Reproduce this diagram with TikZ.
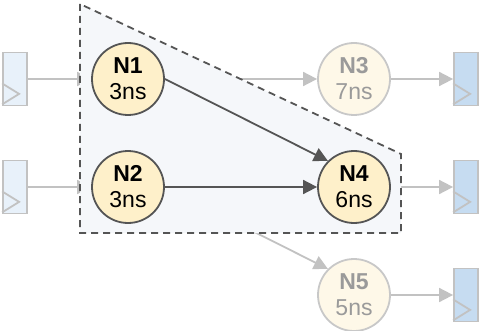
\documentclass[tikz,border=0pt]{standalone}
\usepackage{fontspec}
\setmainfont{Liberation Sans}
\usetikzlibrary{arrows.meta}
\pgfdeclarelayer{wires}
\pgfdeclarelayer{zone}
\pgfsetlayers{wires,zone,main}
\definecolor{wiregrey}{HTML}{C2C2C2}
\definecolor{darkwire}{HTML}{555555}
\definecolor{opfill}{HTML}{FEF0CA}
\definecolor{fadefill}{HTML}{FEF8E8}
\definecolor{fadetext}{HTML}{9A9A9A}
\definecolor{fadeline}{HTML}{C8C8C8}
\definecolor{zonefill}{HTML}{F5F7FA}
\definecolor{inreg}{HTML}{E8F1FA}
\definecolor{outreg}{HTML}{C6DCF1}
\tikzset{
  op/.style={circle, minimum size=72pt, inner sep=0pt, line width=1.8pt,
    draw=darkwire, fill=opfill, align=center, text=black,
    font=\fontsize{23}{26}\selectfont},
  fadeop/.style={op, draw=fadeline, fill=fadefill, text=fadetext},
  reg/.style={rectangle, minimum width=24pt, minimum height=53pt, inner sep=0pt,
    line width=1.8pt, draw=wiregrey},
  inff/.style={reg, fill=inreg},
  outff/.style={reg, fill=outreg},
  wire/.style={draw=wiregrey, line width=1.8pt,
    -{Triangle[length=14pt,width=14pt]}},
  critwire/.style={draw=darkwire, line width=1.8pt,
    -{Triangle[length=14pt,width=14pt]}},
  clk/.style={draw=wiregrey, line width=1.8pt}
}
\begin{document}
\begin{tikzpicture}[x=1pt,y=-1pt]
\useasboundingbox (0,0) rectangle (481,331);

% registers
\node[inff]  (R1) at (15,79)  {};
\node[inff]  (R2) at (15,187) {};
\node[outff] (R3) at (466,79)  {};
\node[outff] (R4) at (466,187) {};
\node[outff] (R5) at (466,295) {};
\foreach \r in {R1,R2,R3,R4,R5}
  \draw[clk] ([yshift=2pt]\r.south west) -- ([xshift=17pt,yshift=12.5pt]\r.south west)
    -- ([yshift=23pt]\r.south west);

% operations
\node[op] (N1) at (128,79)  {\textbf{N1}\\3ns};
\node[op] (N2) at (128,187) {\textbf{N2}\\3ns};
\node[fadeop] (N3) at (354,79)  {\textbf{N3}\\7ns};
\node[op] (N4) at (354,187) {\textbf{N4}\\6ns};
\node[fadeop] (N5) at (354,295) {\textbf{N5}\\5ns};

% non-critical wires, under the highlighted zone
\begin{pgfonlayer}{wires}
  \draw[wire] (R1.east) -- (N1.west);
  \draw[wire] (R2.east) -- (N2.west);
  \draw[wire] (N1.east) -- (N3.west);
  \draw[wire] (N2.east) -- (N5.135);
  \draw[wire] (N3.east) -- (R3.west);
  \draw[wire] (N4.east) -- (R4.west);
  \draw[wire] (N5.east) -- (R5.west);
\end{pgfonlayer}

% highlighted zone
\begin{pgfonlayer}{zone}
  \draw[fill=zonefill, draw=darkwire, line width=1.8pt, dash pattern=on 7pt off 5pt]
    (80,4) -- (80,233) -- (401,233) -- (401,154) -- cycle;
\end{pgfonlayer}

% critical wires
\draw[critwire] (N1.east) -- (N4.135);
\draw[critwire] (N2.east) -- (N4.west);
\end{tikzpicture}
\end{document}
